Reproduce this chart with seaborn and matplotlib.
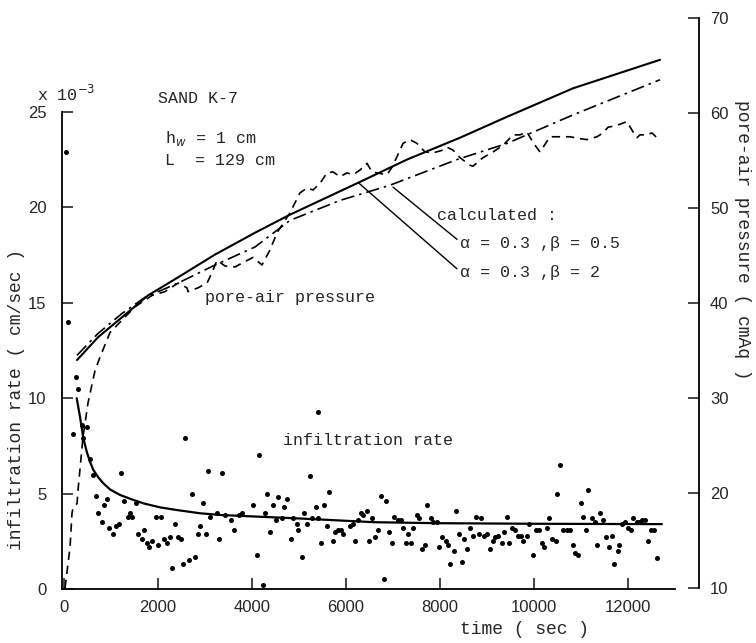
import matplotlib
matplotlib.use("Agg")
import matplotlib.pyplot as plt
import seaborn as sns

# measured infiltration rate (x 10^-3 cm/sec) against time (sec)
rate_time = [40, 85, 255, 304, 185, 377, 483, 411, 553, 611, 675, 730, 802, 858, 909, 964,
             1049, 1100, 1177, 1213, 1283, 1356, 1404, 1453, 1526, 1568, 1653, 1709, 1760,
             1815, 1879, 1951, 2007, 2064, 2134, 2185, 2256, 2305, 2356, 2420, 2483, 2539,
             2575, 2660, 2717, 2781, 2845, 2894, 2964, 3022, 3071, 3107, 3249, 3305, 3356,
             3426, 3547, 3618, 3724, 3782, 4028, 4101, 4150, 4228, 4277, 4326, 4384, 4454,
             4511, 4560, 4633, 4688, 4752, 4824, 4880, 4952, 4986, 5058, 5107, 5165, 5235,
             5284, 5356, 5399, 5412, 5469, 5533, 5590, 5646, 5718, 5767, 5837, 5895, 5944,
             6086, 6143, 6193, 6250, 6320, 6369, 6442, 6497, 6561, 6618, 6688, 6746, 6846,
             6816, 6916, 6973, 7029, 7114, 7171, 7208, 7271, 7327, 7384, 7433, 7506, 7561,
             7625, 7682, 7731, 7810, 7859, 7931, 7987, 8050, 8123, 8165, 8221, 8299, 8348,
             8399, 8469, 8518, 8582, 8640, 8710, 8767, 8831, 8874, 8938, 9008, 9065, 9123,
             9172, 9242, 9314, 9363, 9421, 9476, 9527, 9597, 9668, 9725, 9774, 9846, 9902,
             9987, 10038, 10108, 10166, 10221, 10285, 10321, 10391, 10470, 10497, 10555,
             10625, 10697, 10768, 10838, 10874, 10944, 10996, 11051, 11102, 11157, 11230,
             11300, 11349, 11413, 11476, 11527, 11598, 11655, 11710, 11783, 11817, 11868,
             11938, 12009, 12066, 12115, 12187, 12243, 12306, 12364, 12421, 12491, 12549,
             12613]
rate_value = [22.9, 14.0, 11.1, 10.5, 8.1, 8.6, 8.5, 7.9, 6.8, 6.0, 4.9, 4.0, 3.5, 4.4, 4.7, 3.2,
              2.9, 3.3, 3.4, 6.1, 4.6, 3.8, 4.0, 3.8, 4.5, 2.9, 2.6, 3.1, 2.4,
              2.2, 2.5, 3.8, 2.3, 3.8, 2.6, 2.4, 2.7, 1.1, 3.4, 2.7, 2.6, 1.3,
              7.9, 1.5, 5.0, 1.7, 2.9, 3.3, 4.5, 2.9, 6.2, 3.8, 4.0, 2.6, 6.1,
              3.9, 3.6, 3.1, 3.9, 4.0, 4.4, 1.8, 7.0, 0.2, 4.0, 5.0, 3.0, 4.4,
              3.6, 4.8, 3.7, 4.3, 4.7, 2.6, 3.7, 3.4, 3.1, 1.7, 4.0, 3.4, 5.9,
              3.7, 4.3, 9.3, 3.7, 2.4, 4.4, 3.3, 5.1, 2.5, 3.0, 3.1, 3.1, 2.9,
              3.3, 3.4, 2.5, 3.6, 4.0, 3.9, 4.1, 2.5, 3.7, 2.7, 3.1, 4.9, 4.6,
              0.5, 3.0, 2.4, 3.8, 3.6, 3.6, 3.2, 2.4, 2.9, 2.4, 3.2, 3.9, 3.7,
              2.1, 2.3, 4.4, 3.7, 3.5, 3.5, 2.2, 2.7, 2.5, 2.3, 1.3, 2.0, 4.1,
              2.9, 1.4, 2.6, 2.1, 3.2, 2.8, 3.8, 2.9, 3.7, 2.8, 2.9, 2.1, 2.5,
              2.7, 2.8, 2.4, 3.0, 3.8, 2.4, 3.2, 3.1, 2.8, 2.8, 2.5, 2.8, 3.4,
              1.8, 3.1, 3.1, 2.4, 2.2, 3.2, 3.7, 2.6, 2.5, 5.0, 6.5,
              3.1, 3.1, 3.1, 2.3, 1.9, 1.8, 4.5, 3.8, 3.1, 5.2, 3.7,
              3.5, 2.3, 4.0, 3.6, 2.7, 2.2, 2.8, 1.3, 2.0, 2.3, 3.4,
              3.5, 3.2, 3.1, 3.7, 3.5, 3.5, 3.6, 3.6, 2.5, 3.1, 3.1,
              1.6]

# fitted infiltration rate curve
fit_time = [270, 340, 411, 483, 553, 624, 730, 836, 979, 1192, 1440, 1688, 2043, 2398,
            2894, 3320, 4980, 6618, 7937, 9916, 12725]
fit_value = [10.0, 9.03, 7.9, 7.2, 6.67, 6.24, 5.85, 5.54, 5.22, 4.93, 4.70, 4.49, 4.28,
             4.14, 3.97, 3.88, 3.7, 3.5, 3.45, 3.42, 3.40]

# measured pore-air pressure (cmAq)
pres_time = [21, 128, 170, 192, 277, 298, 383, 404, 511, 660, 766, 979, 1234, 1511, 1873,
             2149, 2426, 2617, 2639, 2852, 3043, 3149, 3256, 3426, 3639, 3788, 4022, 4213,
             4384, 4533, 4809, 5022, 5171, 5299, 5448, 5597, 5724, 5873, 6022, 6150, 6299,
             6448, 6554, 6661, 6873, 6980, 7086, 7214, 7363, 7512, 7682, 7852, 8065, 8150,
             8278, 8427, 8640, 8704, 8916, 9129, 9342, 9555, 9704, 9853, 9980, 10129, 10342,
             10555, 10768, 10980, 11129, 11342, 11470, 11576, 11768, 11981, 12087, 12193,
             12257, 12406, 12512, 12619]
pres_value = [10.0, 14.3, 17.9, 18.4, 18.9, 20.3, 24.8, 25.9, 29.5, 32.9, 34.3, 36.9, 38.2,
              39.6, 40.8, 41.2, 42.1, 41.6, 41.2, 41.6, 42.1, 43.2, 44.5, 43.9, 43.8, 44.2,
              44.8, 44.0, 45.6, 47.4, 49.5, 51.6, 52.1, 51.9, 52.6, 53.7, 53.8, 53.3, 53.7,
              53.5, 54.0, 54.7, 53.8, 53.7, 53.5, 54.3, 55.4, 56.8, 57.2, 56.8, 55.9, 55.8,
              56.1, 56.4, 56.1, 55.3, 54.5, 54.4, 55.3, 55.9, 56.6, 57.7, 57.7, 58.0, 56.9,
              55.9, 57.5, 57.5, 57.5, 57.3, 57.2, 57.5, 57.9, 58.5, 58.7, 59.1, 58.2, 57.4,
              57.7, 57.7, 57.9, 57.4]

# calculated pore-air pressure, alpha = 0.3, beta = 2 (solid)
calc_b2_time = [277, 724, 1234, 1788, 2426, 3213, 4065, 4809, 6235, 7299, 8427, 9427, 10832, 12683]
calc_b2_value = [34.0, 36.4, 38.5, 40.8, 42.7, 45.1, 47.4, 49.3, 52.6, 55.1, 57.4, 59.6, 62.6, 65.6]

# calculated pore-air pressure, alpha = 0.3, beta = 0.5 (dash-dot)
calc_b05_time = [277, 724, 1234, 1724, 2426, 3213, 4065, 4809, 5873, 6937, 8363, 9427, 10832, 12683]
calc_b05_value = [34.5, 36.8, 38.9, 40.6, 42.1, 44.0, 45.9, 48.7, 50.8, 52.4, 55.1, 56.8, 59.8, 63.5]

sns.set_style("ticks")
plt.rcParams['font.family'] = ['Liberation Sans', 'DejaVu Sans']
mono = ['Liberation Mono', 'DejaVu Sans Mono']

fig = plt.figure(figsize=(7.56, 6.43), dpi=100)
ax = fig.add_axes([62 / 756, 54 / 643, 637 / 756, 571 / 643])
ax2 = ax.twinx()

# infiltration rate (left axis)
sns.scatterplot(x=rate_time, y=rate_value, ax=ax, color='black', s=13, linewidth=0)
sns.lineplot(x=fit_time, y=fit_value, ax=ax, color='black', linewidth=1.6,
             estimator=None, sort=False)

# pore-air pressure (right axis)
sns.lineplot(x=pres_time, y=pres_value, ax=ax2, color='black', linewidth=1.2,
             linestyle=(0, (5, 3.5)), estimator=None, sort=False)
sns.lineplot(x=calc_b2_time, y=calc_b2_value, ax=ax2, color='black', linewidth=1.5,
             estimator=None, sort=False)
sns.lineplot(x=calc_b05_time, y=calc_b05_value, ax=ax2, color='black', linewidth=1.2,
             linestyle=(0, (8, 3, 1.5, 3)), estimator=None, sort=False)

ax.set_xlim(-43, 13513)
ax.set_ylim(0, 29.93)
ax2.set_ylim(9.9, 70.0)

ax.set_xticks(range(0, 12001, 2000))
ax.set_yticks(range(0, 26, 5))
ax2.set_yticks(range(10, 71, 10))

for s in ['top', 'right']:
    ax.spines[s].set_visible(False)
for s in ['top', 'left', 'bottom']:
    ax2.spines[s].set_visible(False)
ax.spines['left'].set_bounds(0, 25)
ax.spines['bottom'].set_bounds(-43, 13000)
ax2.spines['right'].set_bounds(10, 70)
for sp in [ax.spines['left'], ax.spines['bottom'], ax2.spines['right']]:
    sp.set_linewidth(1.3)
    sp.set_color('black')

ax.tick_params(axis='x', direction='in', length=8, width=1.2, labelsize=12, pad=8)
ax.tick_params(axis='y', direction='in', length=8, width=1.2, labelsize=12, pad=11)
ax2.tick_params(axis='y', direction='in', length=8, width=1.2, labelsize=12, pad=8)
ax.set_xlabel('')
ax.set_ylabel('')
ax2.set_ylabel('')

# axis titles
fig.text(17 / 756, 1 - 400 / 643, 'infiltration rate ( cm/sec )', rotation=90,
         ha='center', va='center', family=mono, fontsize=13)
fig.text(742 / 756, 1 - 240 / 643, 'pore-air pressure ( cmAq )', rotation=-90,
         ha='center', va='center', family=mono, fontsize=13)
fig.text(525 / 756, 1 - 630 / 643, 'time ( sec )', ha='center', va='center',
         family=mono, fontsize=13)
fig.text(37 / 756, 1 - 101 / 643, 'x 10$^{-3}$', ha='left', va='baseline',
         family=mono, fontsize=12)

# annotations
ax.text(2000, 25.7, 'SAND K-7', ha='left', va='center', family=mono, fontsize=12)
ax.text(2150, 23.6, 'h$_w$ = 1 cm', ha='left', va='center', family=mono, fontsize=12)
ax.text(2150, 22.45, 'L  = 129 cm', ha='left', va='center', family=mono, fontsize=12)
ax.text(7937, 19.6, 'calculated :', ha='left', va='center', family=mono, fontsize=12)
ax.text(8420, 18.1, 'α = 0.3 ,β = 0.5', ha='left', va='center', family=mono, fontsize=12)
ax.text(8420, 16.6, 'α = 0.3 ,β = 2', ha='left', va='center', family=mono, fontsize=12)
ax.text(3000, 15.3, 'pore-air pressure', ha='left', va='center', family=mono, fontsize=12)
ax.text(4660, 7.8, 'infiltration rate', ha='left', va='center', family=mono, fontsize=12)

# leader lines from the calculated curves to their labels
ax2.annotate('', xy=(6256, 52.7), xytext=(8363, 43.6),
             arrowprops=dict(arrowstyle='-', color='black', lw=1.0, shrinkA=0, shrinkB=0))
ax2.annotate('', xy=(7001, 52.2), xytext=(8363, 46.7),
             arrowprops=dict(arrowstyle='-', color='black', lw=1.0, shrinkA=0, shrinkB=0))

fig.savefig('out.png', dpi=100)
